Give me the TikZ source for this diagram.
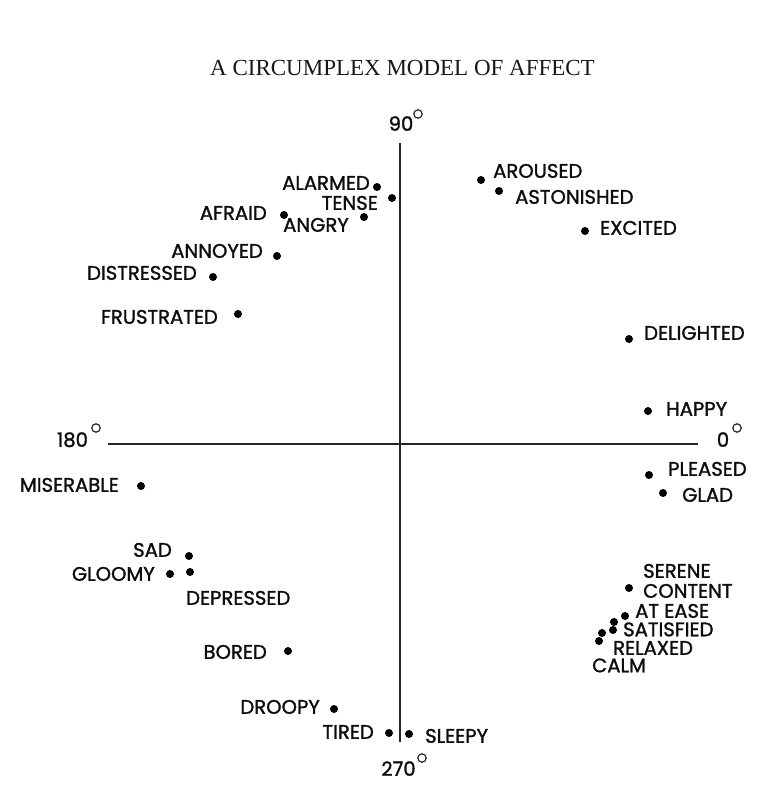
\documentclass[tikz,border=0pt]{standalone}
\usepackage{fontspec}
\setmainfont{Liberation Serif}
\newfontfamily\lblfont{Poppins}[FakeBold=1.4]
\begin{document}
\begin{tikzpicture}[x=1pt,y=-1pt,
  dot/.style={circle,fill=black,inner sep=0pt,minimum size=8pt},
  lbl/.style={font=\lblfont\fontsize{19.6}{20}\selectfont,inner sep=0pt,text height=13.5pt,text depth=0pt,text=black!95},
  lw/.style={lbl,anchor=east},
  le/.style={lbl,anchor=west},
  axis/.style={line width=1.8pt,black!85},
  degc/.style={line width=1.2pt,black!85}]
\useasboundingbox[fill=white] (0,0) rectangle (772,809);
% title
\node[font=\fontsize{23}{23}\selectfont,inner sep=0pt,text=black!90] (title) at (402.5,68) {A CIRCUMPLEX MODEL OF AFFECT};
% axes
\coordinate (top) at (400,143);
\coordinate (bot) at (400,742);
\coordinate (lft) at (108,444);
\coordinate (rgt) at (698,444);
\draw[axis] (top) -- (bot);
\draw[axis] (lft) -- (rgt);
% degree labels
\node[lbl] (d90) at (401,124) {90};
\draw[degc] (418,114) circle (4.2);
\node[lbl] (d0) at (723,440) {0};
\draw[degc] (737,428) circle (4.2);
\node[lbl] (d180) at (72.5,440) {180};
\draw[degc] (96,428) circle (4.2);
\node[lbl] (d270) at (398.5,769) {270};
\draw[degc] (422,758) circle (4.2);
% upper left
\node[dot] (alarmedD) at (377,187) {}; \node[lw] (alarmed) at (370,183) {ALARMED};
\node[dot] (tenseD) at (392,198) {}; \node[lw] (tense) at (378,203) {TENSE};
\node[dot] (afraidD) at (284,215) {}; \node[lw] (afraid) at (267,213) {AFRAID};
\node[dot] (angryD) at (364,217) {}; \node[lw] (angry) at (349,225) {ANGRY};
\node[dot] (annoyedD) at (277,256) {}; \node[lw] (annoyed) at (263,251) {ANNOYED};
\node[dot] (distressedD) at (213,277) {}; \node[lw] (distressed) at (197,273) {DISTRESSED};
\node[dot] (frustratedD) at (238,314) {}; \node[lw] (frustrated) at (218,317) {FRUSTRATED};
% lower left
\node[dot] (miserableD) at (141,486) {}; \node[lw] (miserable) at (119,485) {MISERABLE};
\node[dot] (sadD) at (189,556) {}; \node[lw] (sad) at (172,550) {SAD};
\node[dot] (gloomyD) at (170,574) {}; \node[lw] (gloomy) at (155,574) {GLOOMY};
\node[dot] (depressedD) at (190,572) {}; \node[le] (depressed) at (186,598) {DEPRESSED};
\node[dot] (boredD) at (288,651) {}; \node[lw] (bored) at (267,652) {BORED};
\node[dot] (droopyD) at (334,709) {}; \node[lw] (droopy) at (320,707) {DROOPY};
\node[dot] (tiredD) at (389,733) {}; \node[lw] (tired) at (374,732) {TIRED};
\node[dot] (sleepyD) at (409,734) {}; \node[le] (sleepy) at (425,736) {SLEEPY};
% upper right
\node[dot] (arousedD) at (481,180) {}; \node[le] (aroused) at (493,171) {AROUSED};
\node[dot] (astonishedD) at (499,191) {}; \node[le] (astonished) at (515,197) {ASTONISHED};
\node[dot] (excitedD) at (585,231) {}; \node[le] (excited) at (600,228) {EXCITED};
\node[dot] (delightedD) at (629,339) {}; \node[le] (delighted) at (644,333) {DELIGHTED};
\node[dot] (happyD) at (648,411) {}; \node[le] (happy) at (666,409) {HAPPY};
% lower right
\node[dot] (pleasedD) at (649,475) {}; \node[le] (pleased) at (668,469) {PLEASED};
\node[dot] (gladD) at (663,493) {}; \node[le] (glad) at (682,495) {GLAD};
\node[dot] (sereneD) at (629,588) {}; \node[le] (serene) at (643,571) {SERENE};
\node[dot] (contentD) at (625,616) {}; \node[le] (content) at (643,591) {CONTENT};
\node[dot] (ateaseD) at (614,622) {}; \node[le] (atease) at (635,611) {AT EASE};
\node[dot] (satisfiedD) at (613,630) {}; \node[le] (satisfied) at (623,629.5) {SATISFIED};
\node[dot] (relaxedD) at (602,633) {}; \node[le] (relaxed) at (613,648) {RELAXED};
\node[dot] (calmD) at (599,641) {}; \node[le] (calm) at (592,665.5) {CALM};
\end{tikzpicture}
\end{document}
